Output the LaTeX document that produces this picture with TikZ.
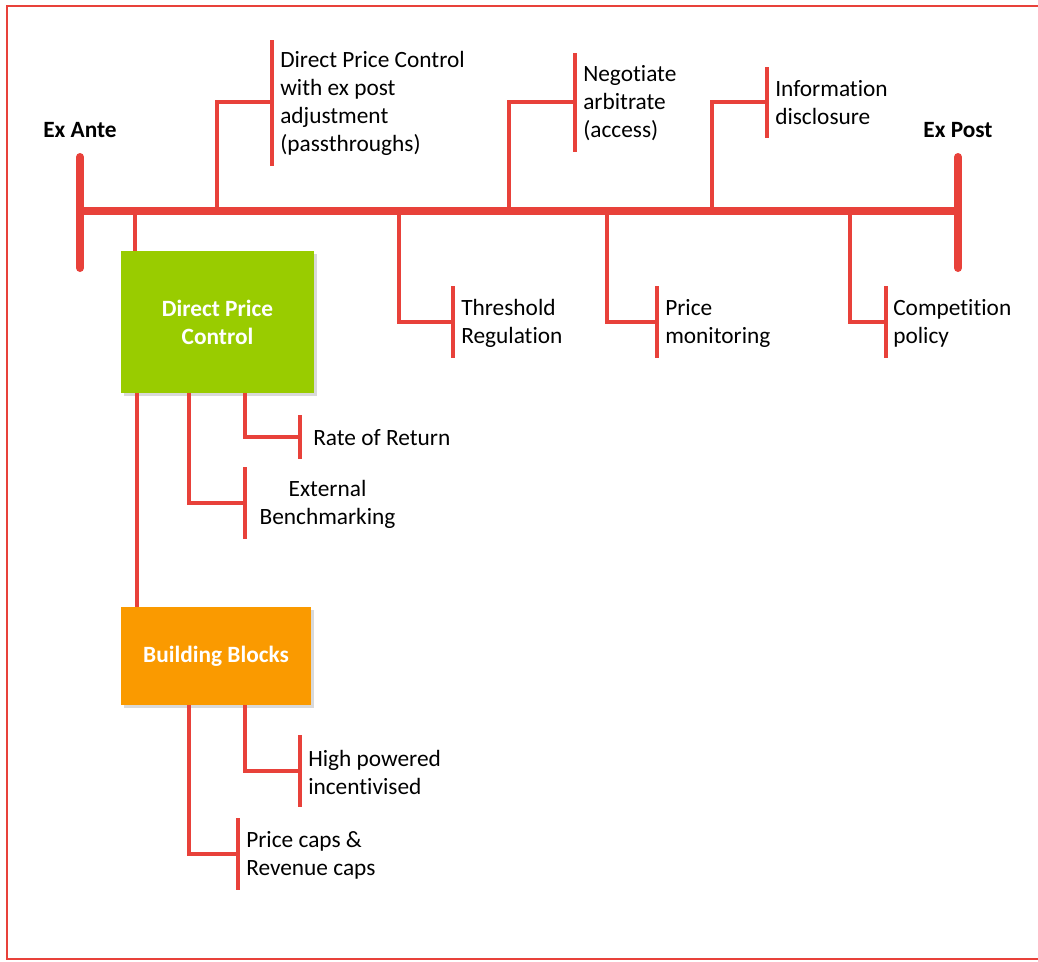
\documentclass[tikz,border=0pt]{standalone}
\usepackage{fontspec}
\setmainfont[RawFeature={-liga;-clig;-calt;-dlig}]{Carlito}
\usetikzlibrary{shadows}
\definecolor{lred}{RGB}{232,65,58}
\definecolor{dgreen}{RGB}{153,204,0}
\definecolor{orng}{RGB}{250,154,0}
\begin{document}
\begin{tikzpicture}[x=0.75pt,y=-0.75pt,
  conn/.style={lred, line width=2.4pt},
  axis/.style={lred, line width=6pt},
  endbar/.style={lred, line width=6pt, line cap=round},
  frame/.style={lred, line width=2.2pt},
  lbl/.style={font=\fontsize{17.5}{21}\selectfont, align=left, anchor=west, inner sep=0pt, text=black},
  endlbl/.style={font=\fontsize{17.5}{21}\selectfont\bfseries, inner sep=0pt, text=black},
  box/.style={font=\fontsize{17.5}{21}\selectfont\bfseries, text=white, align=center, inner sep=0pt,
    drop shadow={shadow xshift=2.5pt, shadow yshift=-2.5pt, fill=black!15, opacity=1}}]
\useasboundingbox (0,0) rectangle (1038,961);
% frame
\coordinate (f1) at (1045,6);
\coordinate (f2) at (7,6);
\coordinate (f3) at (7,959);
\coordinate (f4) at (1045,959);
\draw[frame] (f1) -- (f2) -- (f3) -- (f4);
% axis
\coordinate (A) at (80,211);
\coordinate (B) at (958,211);
\draw[axis] (A) -- (B);
\coordinate (A1) at (80,157); \coordinate (A2) at (80,268);
\coordinate (B1) at (958,157); \coordinate (B2) at (958,268);
\draw[endbar] (A1) -- (A2);
\draw[endbar] (B1) -- (B2);
\node[endlbl] (exante) at (80,130) {Ex Ante};
\node[endlbl] (expost) at (958,130) {Ex Post};
% up branch 1
\coordinate (t1) at (217,211); \coordinate (m1) at (272,102);
\coordinate (u1) at (272,40); \coordinate (d1) at (272,166);
\draw[conn] (t1) |- (m1);
\draw[conn] (u1) -- (d1);
\node[lbl] (n1) at (280,103) {Direct Price Control\\with ex post\\adjustment\\(passthroughs)};
% up branch 2
\coordinate (t2) at (509,211); \coordinate (m2) at (575,102);
\coordinate (u2) at (575,53); \coordinate (d2) at (575,152);
\draw[conn] (t2) |- (m2);
\draw[conn] (u2) -- (d2);
\node[lbl] (n2) at (583,103) {Negotiate\\arbitrate\\(access)};
% up branch 3
\coordinate (t3) at (712,211); \coordinate (m3) at (767,102);
\coordinate (u3) at (767,67); \coordinate (d3) at (767,138);
\draw[conn] (t3) |- (m3);
\draw[conn] (u3) -- (d3);
\node[lbl] (n3) at (775,103) {Information\\disclosure};
% down branch 4
\coordinate (t4) at (399,211); \coordinate (m4) at (453,322);
\coordinate (u4) at (453,286); \coordinate (d4) at (453,358);
\draw[conn] (t4) |- (m4);
\draw[conn] (u4) -- (d4);
\node[lbl] (n4) at (461,323) {Threshold\\Regulation};
% down branch 5
\coordinate (t5) at (607,211); \coordinate (m5) at (657,322);
\coordinate (u5) at (657,286); \coordinate (d5) at (657,358);
\draw[conn] (t5) |- (m5);
\draw[conn] (u5) -- (d5);
\node[lbl] (n5) at (665,323) {Price\\monitoring};
% down branch 6
\coordinate (t6) at (850,211); \coordinate (m6) at (886,322);
\coordinate (u6) at (886,286); \coordinate (d6) at (886,358);
\draw[conn] (t6) |- (m6);
\draw[conn] (u6) -- (d6);
\node[lbl] (n6) at (893,323) {Competition\\policy};
% boxes
\node[box, fill=dgreen, minimum width=144.75pt, minimum height=106.5pt] (dpc) at (217.5,322) {Direct Price\\Control};
\node[box, fill=orng, minimum width=142.5pt, minimum height=73.5pt] (bb) at (216,656) {Building Blocks};
\coordinate (t0) at (135,211);
\draw[conn] (t0) -- (t0 |- dpc.north);
\coordinate (c0) at (137,0);
\draw[conn] (dpc.south -| c0) -- (bb.north -| c0);
% rate of return
\coordinate (c7) at (245,0); \coordinate (m7) at (300,437);
\coordinate (u7) at (300,415); \coordinate (d7) at (300,459);
\draw[conn] (dpc.south -| c7) |- (m7);
\draw[conn] (u7) -- (d7);
\node[lbl] (n7) at (313,438) {Rate of Return};
% external benchmarking
\coordinate (c8) at (189,0); \coordinate (m8) at (245,503);
\coordinate (u8) at (245,467); \coordinate (d8) at (245,539);
\draw[conn] (dpc.south -| c8) |- (m8);
\draw[conn] (u8) -- (d8);
\node[lbl, anchor=center, align=center] (n8) at (327.5,504) {External\\Benchmarking};
% high powered
\coordinate (c9) at (245,0); \coordinate (m9) at (300,771);
\coordinate (u9) at (300,735); \coordinate (d9) at (300,807);
\draw[conn] (bb.south -| c9) |- (m9);
\draw[conn] (u9) -- (d9);
\node[lbl] (n9) at (308,772) {High powered\\incentivised};
% price caps
\coordinate (c10) at (189,0); \coordinate (m10) at (238,854);
\coordinate (u10) at (238,818); \coordinate (d10) at (238,890);
\draw[conn] (bb.south -| c10) |- (m10);
\draw[conn] (u10) -- (d10);
\node[lbl] (n10) at (246,855) {Price caps \&\\Revenue caps};
\end{tikzpicture}
\end{document}
